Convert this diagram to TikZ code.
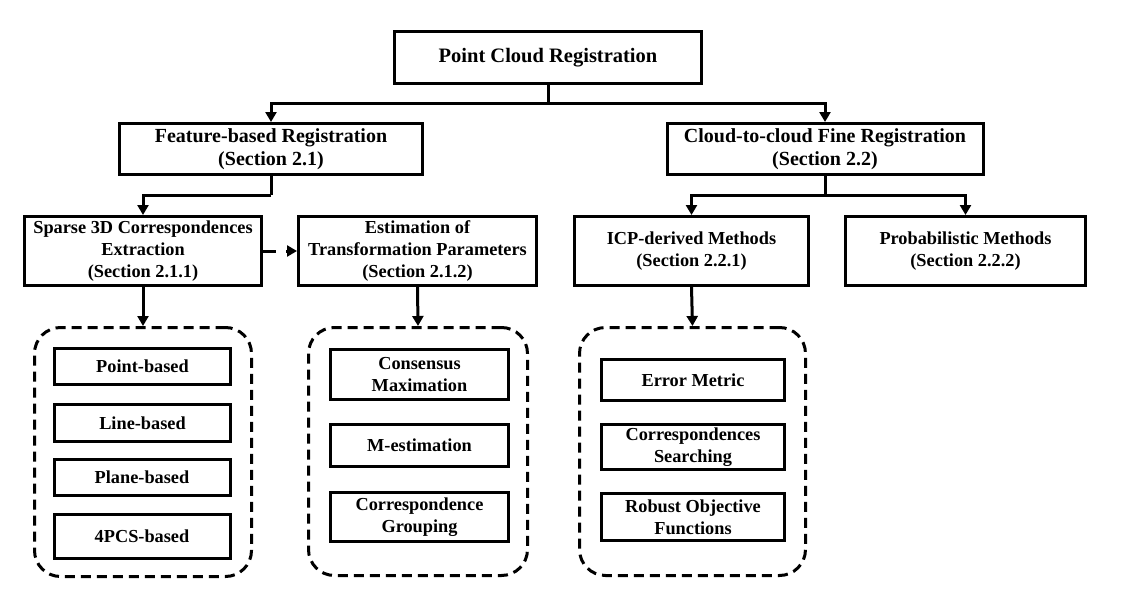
\documentclass[tikz,border=0pt]{standalone}
\usepackage{fontspec}
\setmainfont{Liberation Serif}
\usetikzlibrary{arrows.meta,positioning}
\begin{document}
\begin{tikzpicture}[x=1pt,y=-1pt,
  every node/.style={font=\fontsize{18.3}{22.2}\selectfont\bfseries, align=center, inner sep=0pt},
  box/.style={draw, line width=3pt, rectangle},
  big/.style={font=\fontsize{20}{23.5}\selectfont\bfseries},
  cont/.style={draw, line width=3pt, rounded corners=26pt, dash pattern=on 10pt off 6pt},
  conn/.style={line width=3pt},
  arr/.style={line width=3pt, -{Triangle[length=10pt,width=11pt]}},
  darr/.style={line width=3pt, dash pattern=on 13pt off 10pt, -{Triangle[length=10pt,width=11pt]}}
]
\useasboundingbox (0,0) rectangle (1144,589);
% top
\node[box, minimum width=307pt, minimum height=52pt, font=\fontsize{20.5}{24}\selectfont\bfseries] (title) at (548,57.5) {Point Cloud Registration};
% level 2
\node[box, big, minimum width=303pt, minimum height=51pt] (feat) at (271,149) {Feature-based Registration\\(Section 2.1)};
\node[box, big, minimum width=316pt, minimum height=51pt] (cloud) at (825,149) {Cloud-to-cloud Fine Registration\\(Section 2.2)};
% level 3
\node[box, minimum width=237pt, minimum height=69pt] (sparse) at (143,251) {Sparse 3D Correspondences\\Extraction\\(Section 2.1.1)};
\node[box, minimum width=238pt, minimum height=69pt] (est) at (417.5,251) {Estimation of\\Transformation Parameters\\(Section 2.1.2)};
\node[box, minimum width=234pt, minimum height=69pt] (icp) at (691.5,251) {ICP-derived Methods\\(Section 2.2.1)};
\node[box, minimum width=240pt, minimum height=69pt] (prob) at (965.5,251) {Probabilistic Methods\\(Section 2.2.2)};
% containers
\node[cont, minimum width=217pt, minimum height=249pt] (c1) at (143,452) {};
\node[cont, minimum width=219pt, minimum height=248pt] (c2) at (418,451.5) {};
\node[cont, minimum width=226pt, minimum height=248pt] (c3) at (692.5,451.5) {};
% inner left
\node[box, minimum width=176pt, minimum height=36pt] (pt) at (142.5,366.5) {Point-based};
\node[box, minimum width=176pt, minimum height=37pt] (ln) at (142.5,423) {Line-based};
\node[box, minimum width=176pt, minimum height=36pt] (pl) at (142,477.5) {Plane-based};
\node[box, minimum width=176pt, minimum height=44pt] (pcs) at (142,536.5) {4PCS-based};
% inner middle
\node[box, minimum width=178pt, minimum height=50pt] (cm) at (419.5,374.5) {Consensus\\Maximation};
\node[box, minimum width=178pt, minimum height=42pt] (me) at (419.5,445.5) {M-estimation};
\node[box, minimum width=178pt, minimum height=49pt] (cg) at (419.5,517) {Correspondence\\Grouping};
% inner right
\node[box, minimum width=183pt, minimum height=41pt] (em) at (693,380) {Error Metric};
\node[box, minimum width=183pt, minimum height=45pt] (cs) at (693,447) {Correspondences\\Searching};
\node[box, minimum width=183pt, minimum height=47pt] (ro) at (693,517) {Robust Objective\\Functions};
% connectors
\draw[conn] (title.south) -- ++(0,18.5) coordinate (j1);
\draw[arr] (j1) -| (feat.north);
\draw[arr] (j1) -| (cloud.north);
\draw[conn] (feat.south) -- ++(0,19) coordinate (j2);
\draw[arr] (j2) -| (sparse.north);
\draw[conn] (cloud.south) -- ++(0,19) coordinate (j3);
\draw[arr] (j3) -| (icp.north);
\draw[arr] (j3) -| (prob.north);
\draw[darr] (sparse.east) -- (est.west);
\draw[arr] (sparse.south) -- (c1.north);
\draw[arr] (est.south) -- (c2.north);
\draw[arr] (icp.south) -- (c3.north);
\end{tikzpicture}
\end{document}
